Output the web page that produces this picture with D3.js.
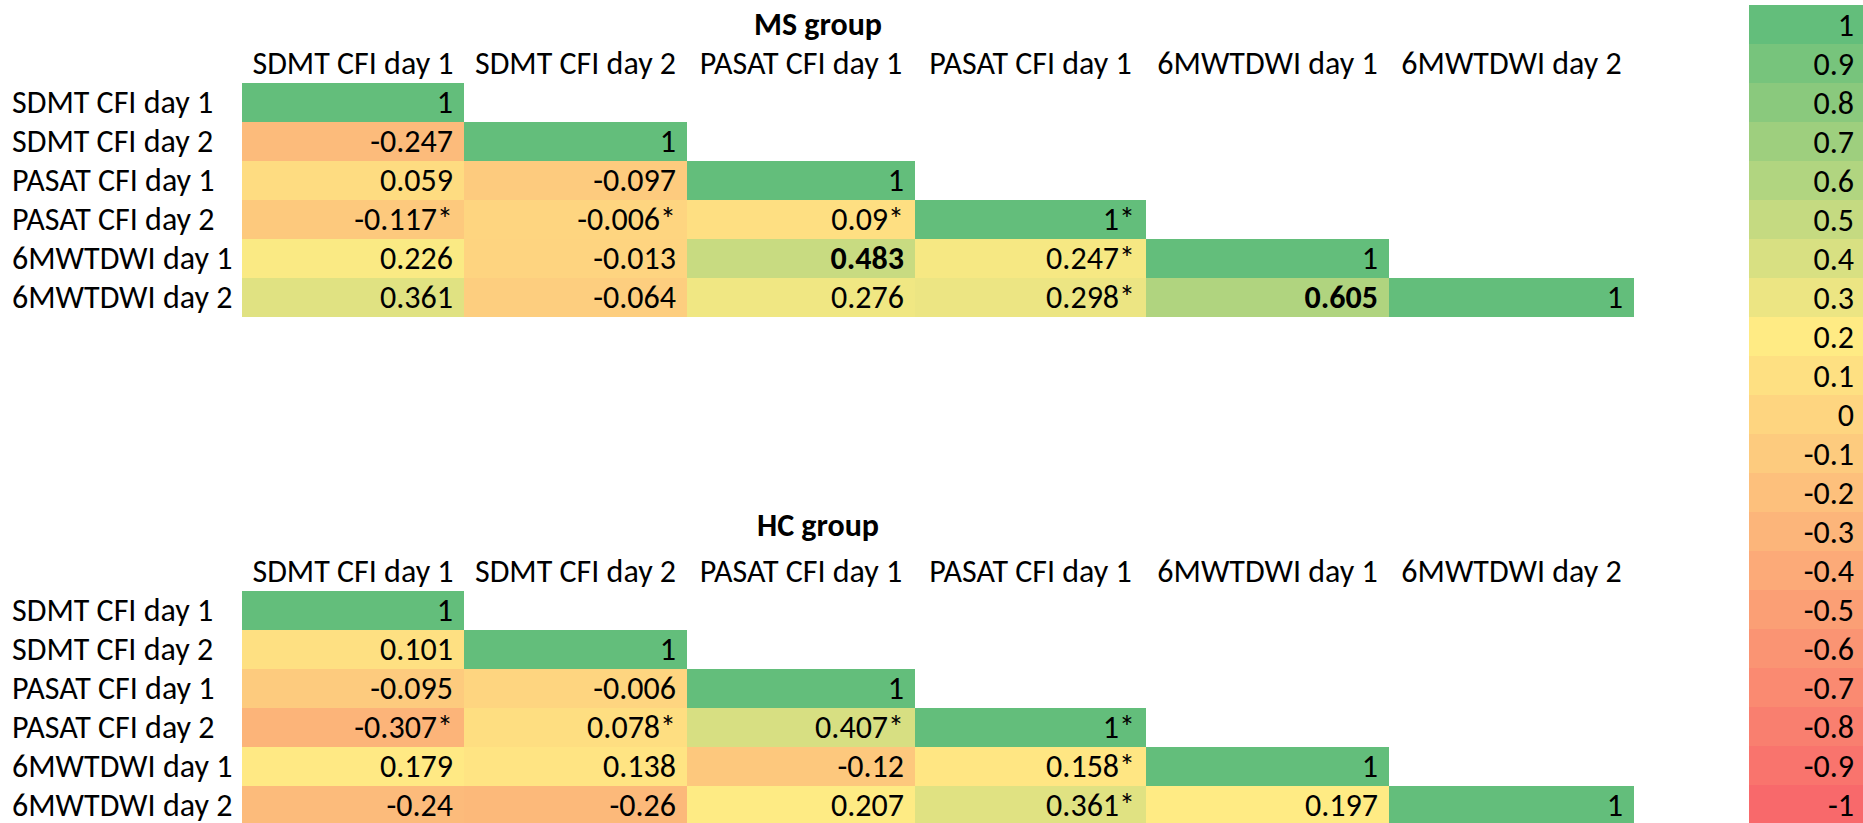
<!DOCTYPE html>
<html>
<head>
<meta charset="utf-8">
<script src="https://cdn.jsdelivr.net/npm/d3@7"></script>
<style>
  html, body { margin: 0; padding: 0; background: #fff; }
  svg { display: block; }
  text { font-family: Carlito, Calibri, "Liberation Sans", Arial, sans-serif; fill: #000; }
</style>
</head>
<body>
<svg id="chart" width="1863" height="823"></svg>
<script>
// Variables (rows) and column headers as printed in the sheet
const rowLabels = ["SDMT CFI day 1", "SDMT CFI day 2", "PASAT CFI day 1", "PASAT CFI day 2", "6MWTDWI day 1", "6MWTDWI day 2"];
const colLabels = ["SDMT CFI day 1", "SDMT CFI day 2", "PASAT CFI day 1", "PASAT CFI day 1", "6MWTDWI day 1", "6MWTDWI day 2"];

// MS group: lower-triangular correlation matrix
const msValues = [
  [1],
  [-0.247, 1],
  [0.059, -0.097, 1],
  [-0.117, -0.006, 0.09, 1],
  [0.226, -0.013, 0.483, 0.247, 1],
  [0.361, -0.064, 0.276, 0.298, 0.605, 1]
];
const msStars = [
  [0],
  [0, 0],
  [0, 0, 0],
  [1, 1, 1, 1],
  [0, 0, 0, 1, 0],
  [0, 0, 0, 1, 0, 0]
];
const msBold = [
  [0],
  [0, 0],
  [0, 0, 0],
  [0, 0, 0, 0],
  [0, 0, 1, 0, 0],
  [0, 0, 0, 0, 1, 0]
];

// HC group: lower-triangular correlation matrix
const hcValues = [
  [1],
  [0.101, 1],
  [-0.095, -0.006, 1],
  [-0.307, 0.078, 0.407, 1],
  [0.179, 0.138, -0.12, 0.158, 1],
  [-0.24, -0.26, 0.207, 0.361, 0.197, 1]
];
const hcStars = [
  [0],
  [0, 0],
  [0, 0, 0],
  [1, 1, 1, 1],
  [0, 0, 0, 1, 0],
  [0, 0, 0, 1, 0, 0]
];
const hcBold = [
  [0],
  [0, 0],
  [0, 0, 0],
  [0, 0, 0, 0],
  [0, 0, 0, 0, 0],
  [0, 0, 0, 0, 0, 0]
];

// Colour key values, top to bottom
const legendValues = [1, 0.9, 0.8, 0.7, 0.6, 0.5, 0.4, 0.3, 0.2, 0.1, 0, -0.1, -0.2, -0.3, -0.4, -0.5, -0.6, -0.7, -0.8, -0.9, -1];

// Three-colour scale: red -> yellow -> green
const color = d3.scaleLinear()
  .domain([-1, 0.2, 1])
  .range(["#F8696B", "#FFEB84", "#63BE7B"])
  .interpolate(d3.interpolateRgb);

const svg = d3.select("#chart");
svg.append("rect").attr("width", 1863).attr("height", 823).attr("fill", "#fff");

const FONT = 32;

// Column edges of the spreadsheet grid (columns differ in width)
const colEdges = [242, 464, 687, 915, 1146, 1389, 1634];
const x = d3.scaleLinear().domain(d3.range(colEdges.length)).range(colEdges);

function drawTable(g, title, titleY, headerY, rowTop, values, stars, bold) {
  const y = d3.scaleBand().domain(d3.range(rowLabels.length)).range([rowTop, rowTop + 39 * rowLabels.length]);

  g.append("text")
    .attr("x", 818).attr("y", titleY)
    .attr("text-anchor", "middle")
    .attr("font-size", FONT).attr("font-weight", "bold")
    .text(title);

  g.selectAll(".colhead").data(colLabels).join("text")
    .attr("class", "colhead")
    .attr("x", (d, i) => (x(i) + x(i + 1)) / 2)
    .attr("y", headerY)
    .attr("text-anchor", "middle")
    .attr("font-size", FONT)
    .text(d => d);

  g.selectAll(".rowhead").data(rowLabels).join("text")
    .attr("class", "rowhead")
    .attr("x", 12)
    .attr("y", (d, i) => y(i) + y.bandwidth() - 9)
    .attr("font-size", FONT)
    .text(d => d);

  const cells = [];
  values.forEach((row, r) => row.forEach((v, c) => {
    cells.push({ r, c, v, star: stars[r][c], bold: bold[r][c] });
  }));

  g.selectAll(".cell").data(cells).join("rect")
    .attr("class", "cell")
    .attr("x", d => x(d.c))
    .attr("y", d => y(d.r))
    .attr("width", d => x(d.c + 1) - x(d.c))
    .attr("height", y.bandwidth())
    .attr("fill", d => color(d.v))
    .attr("shape-rendering", "crispEdges");

  g.selectAll(".val").data(cells).join("text")
    .attr("class", "val")
    .attr("x", d => x(d.c + 1) - 11)
    .attr("y", d => y(d.r) + y.bandwidth() - 9)
    .attr("text-anchor", "end")
    .attr("font-size", FONT)
    .attr("font-weight", d => d.bold ? "bold" : "normal")
    .text(d => String(d.v) + (d.star ? "*" : ""));
}

drawTable(svg.append("g"), "MS group", 35, 74, 83, msValues, msStars, msBold);
drawTable(svg.append("g"), "HC group", 536, 582, 591, hcValues, hcStars, hcBold);

// Colour key on the right edge
const ly = d3.scaleBand().domain(legendValues).range([5, 5 + 39 * legendValues.length]);
const legend = svg.append("g");
legend.selectAll("rect").data(legendValues).join("rect")
  .attr("x", 1749).attr("y", d => ly(d))
  .attr("width", 120).attr("height", ly.bandwidth())
  .attr("fill", d => color(d))
  .attr("shape-rendering", "crispEdges");
legend.selectAll("text").data(legendValues).join("text")
  .attr("x", 1854)
  .attr("y", d => ly(d) + ly.bandwidth() - 8)
  .attr("text-anchor", "end")
  .attr("font-size", FONT)
  .text(d => String(d));
</script>
</body>
</html>
